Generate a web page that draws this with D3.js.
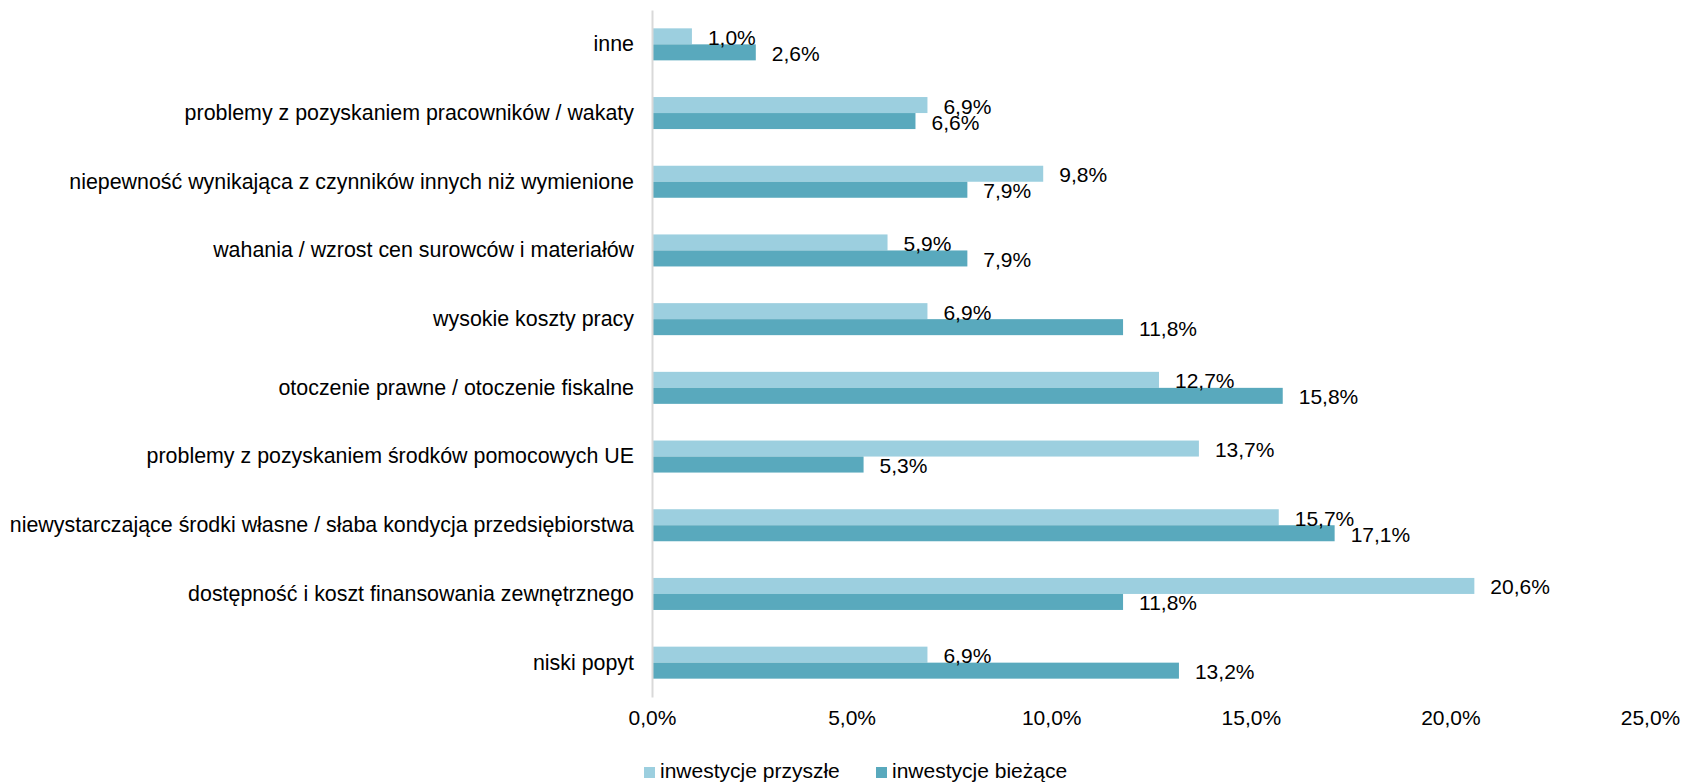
<!DOCTYPE html>
<html>
<head>
<meta charset="utf-8">
<script src="https://cdn.jsdelivr.net/npm/d3@7"></script>
<style>
  body { margin: 0; background: #fff; }
  text { font-family: 'Liberation Sans', Arial, sans-serif; fill: #000; }
</style>
</head>
<body>
<script>
const width = 1683;
const height = 782;

const categories = [
  'inne',
  'problemy z pozyskaniem pracowników / wakaty',
  'niepewność wynikająca z czynników innych niż wymienione',
  'wahania / wzrost cen surowców i materiałów',
  'wysokie koszty pracy',
  'otoczenie prawne / otoczenie fiskalne',
  'problemy z pozyskaniem środków pomocowych UE',
  'niewystarczające środki własne / słaba kondycja przedsiębiorstwa',
  'dostępność i koszt finansowania zewnętrznego',
  'niski popyt'
];
const przyszle = [1.0, 6.9, 9.8, 5.9, 6.9, 12.7, 13.7, 15.7, 20.6, 6.9];
const biezace = [2.6, 6.6, 7.9, 7.9, 11.8, 15.8, 5.3, 17.1, 11.8, 13.2];
const seriesNames = ['inwestycje przyszłe', 'inwestycje bieżące'];
const ticks = [0, 5, 10, 15, 20, 25];

const colors = ['#9ccfdf', '#59a9bd'];
const fmt = (v) => v.toFixed(1).replace('.', ',') + '%';

const svg = d3.select('body')
  .append('svg')
    .attr('width', width)
    .attr('height', height);

const x = d3.scaleLinear()
  .domain([0, 25])
  .range([652, 1650]);

const y = d3.scaleBand()
  .domain(categories)
  .range([10, 697])
  .paddingInner(0.534)
  .paddingOuter(0.267);

const sub = d3.scaleBand()
  .domain([0, 1])
  .range([0, y.bandwidth()]);

const rows = categories.map((c, i) => ({ cat: c, values: [przyszle[i], biezace[i]] }));

// bars
const groups = svg.append('g')
  .selectAll('g')
  .data(rows)
  .enter()
    .append('g')
    .attr('transform', (d) => `translate(0, ${y(d.cat)})`);

groups.selectAll('rect')
  .data((d) => d.values)
  .enter()
    .append('rect')
    .attr('x', x(0))
    .attr('y', (d, i) => sub(i))
    .attr('width', (d) => x(d) - x(0))
    .attr('height', sub.bandwidth())
    .attr('fill', (d, i) => colors[i]);

groups.selectAll('text')
  .data((d) => d.values)
  .enter()
    .append('text')
    .attr('x', (d) => x(d) + 16)
    .attr('y', (d, i) => sub(i) + sub.bandwidth() / 2 + 1)
    .attr('dominant-baseline', 'central')
    .style('font-size', '21px')
    .text(fmt);

// category axis
const yAxis = d3.axisLeft(y)
  .tickSize(0)
  .tickPadding(18);

const ya = svg.append('g')
  .attr('transform', `translate(${x(0)}, 0)`)
  .call(yAxis);
ya.select('.domain').attr('stroke', '#d9d9d9').attr('stroke-width', 2);
ya.selectAll('text')
  .style('font-size', '21.4px')
  .style('font-family', "'Liberation Sans', Arial, sans-serif");

// value axis
const xAxis = d3.axisBottom(x)
  .tickValues(ticks)
  .tickFormat(fmt)
  .tickSize(0)
  .tickPadding(0);

const xa = svg.append('g')
  .attr('transform', 'translate(0, 710)')
  .call(xAxis);
xa.select('.domain').remove();
xa.selectAll('text')
  .attr('dy', '0.71em')
  .style('font-size', '21px')
  .style('font-family', "'Liberation Sans', Arial, sans-serif");

// legend
const legendX = [644, 876];
const legend = svg.append('g')
  .selectAll('g')
  .data(seriesNames)
  .enter()
    .append('g')
    .attr('transform', (d, i) => `translate(${legendX[i]}, 767)`);

legend.append('rect')
  .attr('width', 11)
  .attr('height', 11)
  .attr('fill', (d, i) => colors[i]);

legend.append('text')
  .attr('x', 16)
  .attr('y', 11)
  .style('font-size', '21px')
  .text((d) => d);
</script>
</body>
</html>
